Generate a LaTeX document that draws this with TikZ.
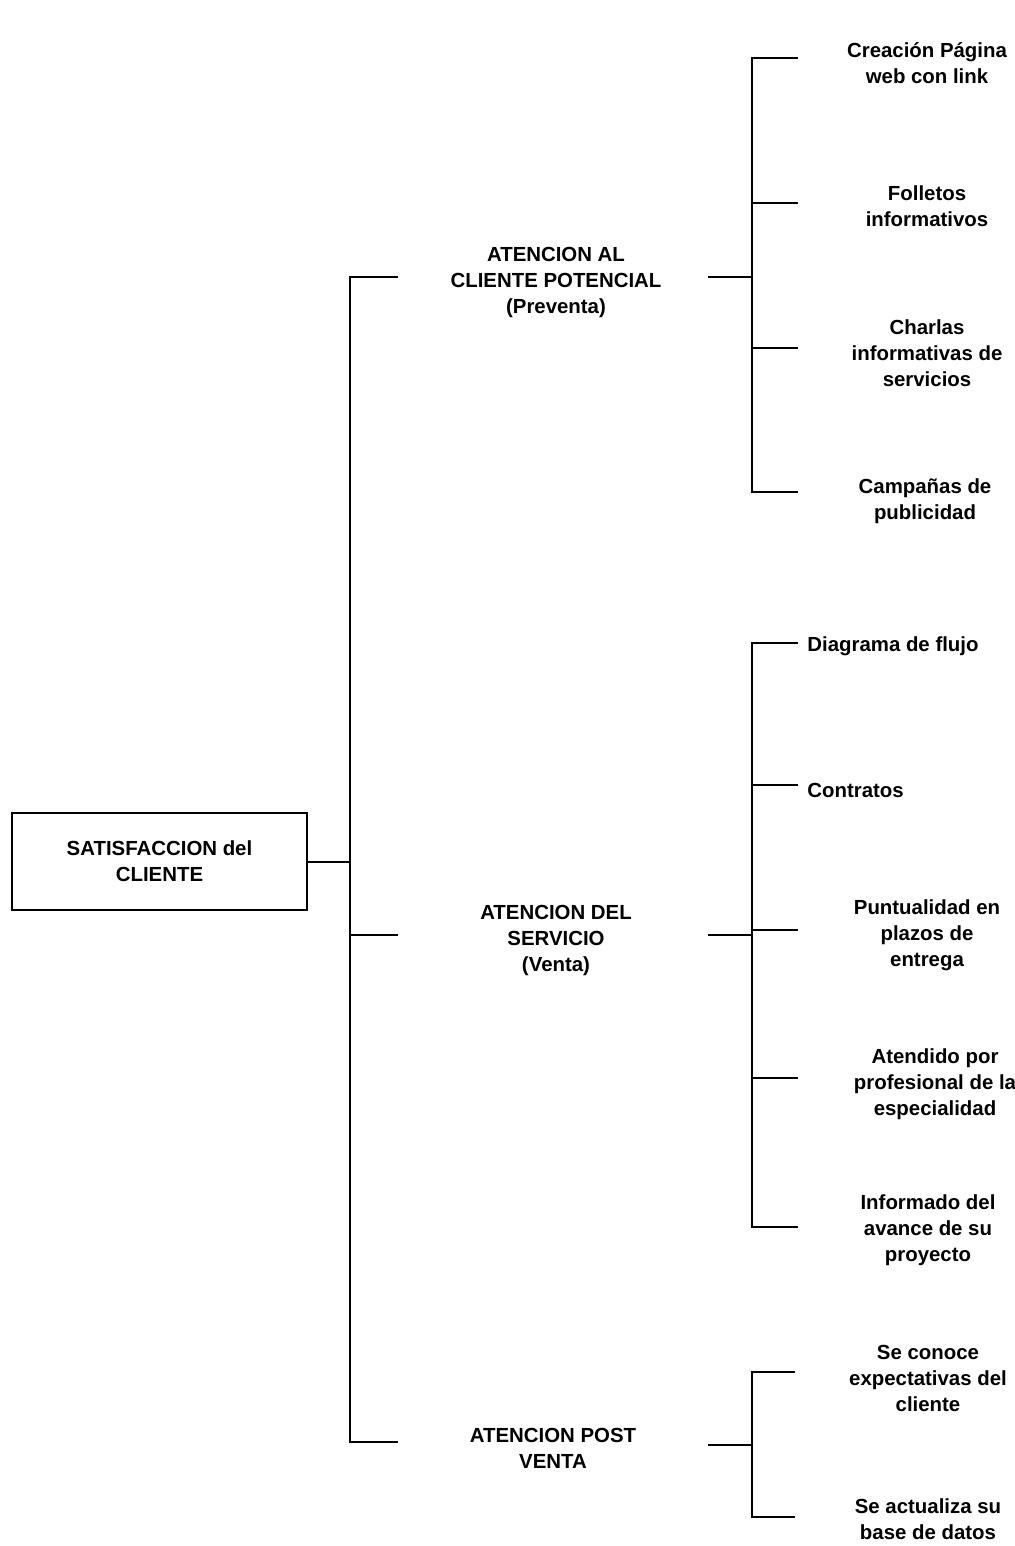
\documentclass[tikz,border=0pt]{standalone}
\usepackage{fontspec}
\setmainfont{Liberation Sans}
\begin{document}
\begin{tikzpicture}[x=0.5pt,y=-0.5pt,
  line/.style={draw=black,line width=1.3pt},
  lbl/.style={font=\bfseries\fontsize{10.2}{13}\selectfont,align=center,inner sep=0pt},
  rootbox/.style={draw=black,line width=1.3pt,minimum width=147.5pt,minimum height=48.5pt,
    font=\bfseries\fontsize{10.2}{13}\selectfont,align=center,inner sep=0pt}]
\useasboundingbox (0,0) rectangle (1015,1546);

% root
\node[rootbox] (root) at (159.5,861.5) {SATISFACCION del\\CLIENTE};

% main bar
\coordinate (mt) at (350,277);
\coordinate (mm) at (350,862);
\coordinate (mc) at (350,935);
\coordinate (mb) at (350,1442);
\coordinate (t1) at (398,277);
\coordinate (t2) at (398,935);
\coordinate (t3) at (398,1442);
\draw[line] (root.east |- mm) -- (mm);
\draw[line] (t1) -- (mt) -- (mb) -- (t3);
\draw[line] (mc) -- (t2);

% second level
\node[lbl] (a1) at (556,282) {ATENCION AL\\CLIENTE POTENCIAL\\(Preventa)};
\node[lbl] (a2) at (556,940) {ATENCION DEL\\SERVICIO\\(Venta)};
\node[lbl] (a3) at (553,1448) {ATENCION POST\\VENTA};

% group 1
\coordinate (s1) at (708,277);
\coordinate (b1) at (752,277);
\coordinate (b1t) at (752,58);
\coordinate (b1a) at (752,203);
\coordinate (b1b) at (752,348);
\coordinate (b1e) at (752,492);
\draw[line] (s1) -- (b1);
\draw[line] (798,58) -- (b1t) -- (b1e) -- (798,492);
\draw[line] (b1a) -- (798,203);
\draw[line] (b1b) -- (798,348);
\node[lbl] (c1) at (927,63) {Creación Página\\web con link};
\node[lbl] (c2) at (927,206) {Folletos\\informativos};
\node[lbl] (c3) at (927,353) {Charlas\\informativas de\\servicios};
\node[lbl] (c4) at (925,501) {Campañas de\\publicidad};

% group 2
\coordinate (s2) at (708,935);
\coordinate (b2) at (752,935);
\coordinate (b2t) at (752,643);
\coordinate (b2a) at (752,785);
\coordinate (b2b) at (752,930);
\coordinate (b2c) at (752,1078);
\coordinate (b2e) at (752,1227);
\draw[line] (s2) -- (b2);
\draw[line] (798,643) -- (b2t) -- (b2e) -- (798,1227);
\draw[line] (b2a) -- (798,785);
\draw[line] (b2b) -- (798,930);
\draw[line] (b2c) -- (798,1078);
\node[lbl,anchor=west] (d1) at (807,646) {Diagrama de flujo};
\node[lbl,anchor=west] (d2) at (807,790) {Contratos};
\node[lbl] (d3) at (927,935) {Puntualidad en\\plazos de\\entrega};
\node[lbl] (d4) at (935,1084) {Atendido por\\profesional de la\\especialidad};
\node[lbl] (d5) at (928,1230) {Informado del\\avance de su\\proyecto};

% group 3
\coordinate (s3) at (708,1445);
\coordinate (b3) at (752,1445);
\coordinate (b3t) at (752,1372);
\coordinate (b3e) at (752,1517);
\draw[line] (s3) -- (b3);
\draw[line] (795,1372) -- (b3t) -- (b3e) -- (795,1517);
\node[lbl] (e1) at (928,1378) {Se conoce\\expectativas del\\cliente};
\node[lbl] (e2) at (928,1519) {Se actualiza su\\base de datos};
\end{tikzpicture}
\end{document}
